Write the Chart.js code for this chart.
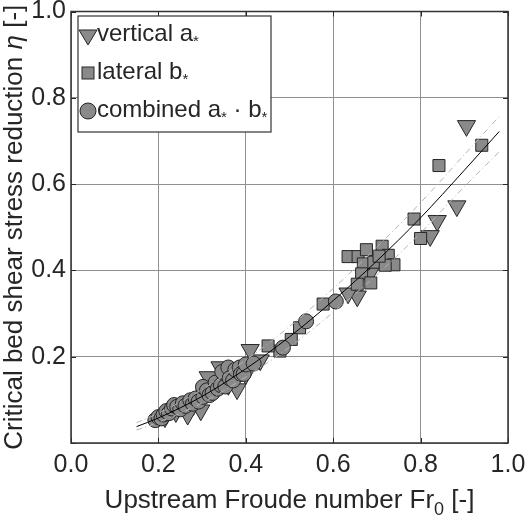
<!DOCTYPE html>
<html>
<head>
<meta charset="utf-8">
<script src="https://cdn.jsdelivr.net/npm/chart.js@4"></script>
<style>
body { margin: 0; background: #fff; }
#grafico { display: block; }
</style>
</head>
<body>
<canvas id="grafico" width="528" height="515"></canvas>
<script>
// vertical a* (triangles)
var vertFr  = [0.905, 0.883, 0.838, 0.822, 0.685, 0.655, 0.634, 0.433, 0.410, 0.400, 0.380, 0.360, 0.341, 0.314, 0.297, 0.280, 0.267, 0.240, 0.215];
var vertEta = [0.735, 0.549, 0.515, 0.480, 0.395, 0.340, 0.347, 0.192, 0.216, 0.160, 0.125, 0.135, 0.176, 0.153, 0.076, 0.088, 0.066, 0.072, 0.060];

// lateral b* (squares)
var latFr  = [0.940, 0.842, 0.785, 0.800, 0.634, 0.657, 0.676, 0.712, 0.669, 0.693, 0.726, 0.739, 0.719, 0.705, 0.665, 0.686, 0.655, 0.577, 0.523, 0.504, 0.478, 0.451, 0.390, 0.350, 0.300, 0.240];
var latEta = [0.690, 0.643, 0.519, 0.474, 0.432, 0.432, 0.448, 0.456, 0.415, 0.419, 0.435, 0.413, 0.412, 0.433, 0.392, 0.371, 0.368, 0.322, 0.267, 0.240, 0.213, 0.225, 0.170, 0.140, 0.110, 0.080];

// combined a* . b* (circles)
var combFr  = [0.193, 0.200, 0.207, 0.212, 0.218, 0.224, 0.231, 0.236, 0.243, 0.250, 0.256, 0.262, 0.273, 0.279, 0.285, 0.292, 0.303, 0.302, 0.311, 0.317, 0.324, 0.331, 0.336, 0.343, 0.346, 0.353, 0.360, 0.363, 0.371, 0.376, 0.386, 0.389, 0.395, 0.400, 0.418, 0.485, 0.538, 0.606];
var combEta = [0.053, 0.060, 0.057, 0.066, 0.074, 0.069, 0.080, 0.088, 0.084, 0.078, 0.092, 0.086, 0.099, 0.091, 0.103, 0.096, 0.107, 0.130, 0.122, 0.111, 0.116, 0.140, 0.126, 0.134, 0.165, 0.131, 0.175, 0.150, 0.145, 0.170, 0.175, 0.160, 0.160, 0.182, 0.184, 0.221, 0.282, 0.328];

// fit curve and bounds
var fitFr    = [0.15, 0.20, 0.30, 0.40, 0.50, 0.60, 0.70, 0.80, 0.90, 0.98];
var fitEta   = [0.038, 0.058, 0.108, 0.172, 0.246, 0.330, 0.422, 0.522, 0.632, 0.722];
var upperEta = [0.047, 0.069, 0.124, 0.192, 0.270, 0.358, 0.454, 0.557, 0.668, 0.757];
var lowerEta = [0.030, 0.048, 0.093, 0.153, 0.222, 0.303, 0.390, 0.487, 0.594, 0.675];

var ejeTicks = [0, 0.2, 0.4, 0.6, 0.8, 1.0];

var fuente = 'Liberation Sans, Arial, sans-serif';
var relleno = '#8a8a8a';
var borde = '#262626';

function puntos(xs, ys){
    var r = [];
    for (var i = 0; i < xs.length; i++) {
        r.push({x: xs[i], y: ys[i]});
    }
    return r;
}

function textoSub(ctx, partes, x, y, centrar, tam){
    // partes: [texto, tipo] tipo: 'n' normal, 's' subindice, 'a' asterisco, 'i' italica
    var total = 0;
    var i;
    for (i = 0; i < partes.length; i++) {
        ctx.font = fontDe(partes[i][1], tam);
        total += ctx.measureText(partes[i][0]).width;
    }
    var cx = centrar ? x - total / 2 : x;
    for (i = 0; i < partes.length; i++) {
        ctx.font = fontDe(partes[i][1], tam);
        var dy = partes[i][1] === 's' ? 7 : (partes[i][1] === 'a' ? 5 : 0);
        ctx.fillText(partes[i][0], cx, y + dy);
        cx += ctx.measureText(partes[i][0]).width;
    }
}

function fontDe(t, tam){
    if (t === 's') return Math.round(tam * 0.7) + 'px ' + fuente;
    if (t === 'a') return Math.round(tam * 0.62) + 'px ' + fuente;
    if (t === 'i') return 'italic ' + tam + 'px ' + fuente;
    return tam + 'px ' + fuente;
}

var extras = {
    id: 'extras',
    afterDraw: function(chart){
        var ctx = chart.ctx;
        var a = chart.chartArea;
        var sx = chart.scales.x, sy = chart.scales.y;
        ctx.save();

        // ticks hacia adentro
        ctx.strokeStyle = borde;
        ctx.lineWidth = 1;
        ctx.beginPath();
        for (var i = 0; i < ejeTicks.length; i++) {
            var px = Math.round(sx.getPixelForValue(ejeTicks[i])) + 0.5;
            var py = Math.round(sy.getPixelForValue(ejeTicks[i])) + 0.5;
            ctx.moveTo(px, a.bottom); ctx.lineTo(px, a.bottom - 5);
            ctx.moveTo(px, a.top); ctx.lineTo(px, a.top + 5);
            ctx.moveTo(a.left, py); ctx.lineTo(a.left + 5, py);
            ctx.moveTo(a.right, py); ctx.lineTo(a.right - 5, py);
        }
        ctx.stroke();

        // caja
        ctx.lineWidth = 1.5;
        ctx.strokeStyle = '#333';
        ctx.strokeRect(a.left, a.top, a.right - a.left, a.bottom - a.top);

        // titulos de ejes
        ctx.fillStyle = borde;
        ctx.textBaseline = 'alphabetic';
        ctx.textAlign = 'left';
        textoSub(ctx, [['Upstream Froude number Fr', 'n'], ['0', 's'], [' [-]', 'n']], (a.left + a.right) / 2, 508, true, 26);

        ctx.save();
        ctx.translate(22, (a.top + a.bottom) / 2);
        ctx.rotate(-Math.PI / 2);
        textoSub(ctx, [['Critical bed shear stress reduction ', 'n'], ['\u03b7', 'i'], [' [-]', 'n']], 0, 0, true, 26);
        ctx.restore();

        // leyenda
        var lx = 78, ly = 16, lw = 193, lh = 116;
        ctx.fillStyle = '#fff';
        ctx.fillRect(lx, ly, lw, lh);
        ctx.strokeStyle = '#333';
        ctx.lineWidth = 1.2;
        ctx.strokeRect(lx, ly, lw, lh);

        ctx.fillStyle = relleno;
        ctx.strokeStyle = borde;
        ctx.lineWidth = 1;
        var mx = 88;
        // triangulo
        ctx.beginPath();
        ctx.moveTo(mx - 9, 30); ctx.lineTo(mx + 9, 30); ctx.lineTo(mx, 45); ctx.closePath();
        ctx.fill(); ctx.stroke();
        // cuadrado
        ctx.fillRect(mx - 6, 67, 12, 12); ctx.strokeRect(mx - 6, 67, 12, 12);
        // circulo
        ctx.beginPath();
        ctx.arc(mx, 111, 8, 0, Math.PI * 2);
        ctx.fill(); ctx.stroke();

        ctx.fillStyle = borde;
        textoSub(ctx, [['vertical a', 'n'], ['*', 'a']], 97, 41, false, 24);
        textoSub(ctx, [['lateral b', 'n'], ['*', 'a']], 97, 79, false, 24);
        textoSub(ctx, [['combined a', 'n'], ['*', 'a'], [' \u00b7 b', 'n'], ['*', 'a']], 97, 117, false, 24);

        ctx.restore();
    }
};

function crearGrafico(id){
    var ctx = document.getElementById(id);
    var linea = function(ys, color, dash, orden){
        return {
            data: puntos(fitFr, ys),
            showLine: true,
            pointRadius: 0,
            borderColor: color,
            borderWidth: 1,
            borderDash: dash,
            cubicInterpolationMode: 'monotone',
            order: orden
        };
    };
    var myChart = new Chart(ctx, {
        type: 'scatter',
        data: {
            datasets: [
                linea(upperEta, '#b4b4b4', [6, 3, 1, 3], -1),
                linea(lowerEta, '#b4b4b4', [6, 3, 1, 3], -1),
                linea(fitEta, '#000', [], -2),
                {
                    label: 'combined',
                    data: puntos(combFr, combEta),
                    pointStyle: 'circle',
                    pointRadius: 7.5,
                    backgroundColor: relleno,
                    borderColor: borde,
                    borderWidth: 1,
                    order: 0
                },
                {
                    label: 'lateral',
                    data: puntos(latFr, latEta),
                    pointStyle: 'rect',
                    pointRadius: 8.5,
                    backgroundColor: relleno,
                    borderColor: borde,
                    borderWidth: 1,
                    order: 1
                },
                {
                    label: 'vertical',
                    data: puntos(vertFr, vertEta),
                    pointStyle: 'triangle',
                    pointRotation: 180,
                    pointRadius: 10.5,
                    backgroundColor: relleno,
                    borderColor: borde,
                    borderWidth: 1,
                    order: 2
                }
            ]
        },
        options: {
            responsive: false,
            animation: false,
            layout: { padding: { left: 0, right: 20, top: 10, bottom: 0 } },
            plugins: { legend: { display: false }, tooltip: { enabled: false } },
            scales: {
                x: {
                    type: 'linear', min: 0, max: 1,
                    afterBuildTicks: function(s){ s.ticks = ejeTicks.map(function(v){ return {value: v}; }); },
                    afterFit: function(s){ s.height = 72; s.paddingLeft = 0; s.paddingRight = 0; },
                    grid: { color: '#8f8f8f', lineWidth: 1, drawTicks: false },
                    border: { display: false },
                    ticks: {
                        padding: 7, color: borde, maxRotation: 0,
                        font: { family: fuente, size: 25 },
                        callback: function(v){ return v.toFixed(1); }
                    }
                },
                y: {
                    type: 'linear', min: 0, max: 1,
                    afterBuildTicks: function(s){ s.ticks = ejeTicks.map(function(v){ return {value: v}; }); },
                    afterFit: function(s){ s.width = 71; s.paddingTop = 0; s.paddingBottom = 0; },
                    grid: { color: '#8f8f8f', lineWidth: 1, drawTicks: false },
                    border: { display: false },
                    ticks: {
                        padding: 5, color: borde,
                        font: { family: fuente, size: 25 },
                        callback: function(v){ return v === 0 ? '' : v.toFixed(1); }
                    }
                }
            }
        },
        plugins: [extras]
    });
}

crearGrafico('grafico');
</script>
</body>
</html>
